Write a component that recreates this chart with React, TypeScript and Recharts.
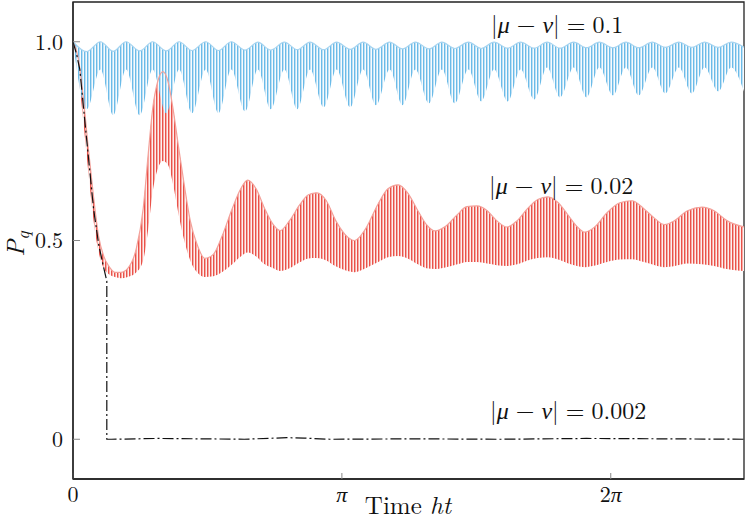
import { ComposedChart, Area, Line, XAxis, YAxis, ReferenceArea, Label } from 'recharts'

// |mu - nu| = 0.1 (blue band: upper edge and lower tips of the fast oscillation)
const blueTime = [
  0, 0.16, 0.32, 0.47, 0.62, 0.78, 0.93, 1.09, 1.24, 1.39, 1.55, 1.7, 1.85, 2.01, 2.16, 2.31, 2.47, 2.62,
  2.77, 2.93, 3.08, 3.24, 3.39, 3.54, 3.7, 3.85, 4.0, 4.16, 4.31, 4.46, 4.62, 4.77, 4.92, 5.08, 5.23, 5.39,
  5.54, 5.69, 5.85, 6.0, 6.15, 6.31, 6.46, 6.61, 6.77, 6.92, 7.08, 7.23, 7.38, 7.54, 7.69, 7.84,
]
const blueHigh = [
  1.0, 0.975, 1.0, 0.976, 1.0, 0.977, 1.0, 0.977, 1.0, 0.978, 1.0, 0.978, 1.0, 0.979, 0.999, 0.979, 0.999,
  0.98, 0.999, 0.98, 0.999, 0.981, 0.999, 0.981, 0.999, 0.982, 0.999, 0.982, 0.999, 0.983, 0.999, 0.983,
  0.999, 0.984, 0.999, 0.984, 0.999, 0.984, 0.999, 0.985, 0.999, 0.985, 0.999, 0.985, 0.999, 0.986, 0.999,
  0.986, 0.999, 0.986, 0.999, 0.986,
]
const blueLow = [
  1.0, 0.83, 0.93, 0.815, 0.93, 0.815, 0.93, 0.82, 0.93, 0.82, 0.93, 0.82, 0.93, 0.825, 0.93, 0.83, 0.93,
  0.83, 0.93, 0.835, 0.93, 0.835, 0.93, 0.84, 0.93, 0.84, 0.93, 0.845, 0.93, 0.845, 0.93, 0.85, 0.93, 0.85,
  0.93, 0.855, 0.935, 0.86, 0.935, 0.86, 0.935, 0.865, 0.935, 0.865, 0.935, 0.87, 0.935, 0.87, 0.935, 0.875,
  0.935, 0.875,
]

// |mu - nu| = 0.02 (red band)
const redTime = [
  0, 0.06, 0.12, 0.18, 0.24, 0.3, 0.36, 0.42, 0.49, 0.56, 0.64, 0.74, 0.82, 0.88, 0.93, 0.99, 1.05, 1.11,
  1.17, 1.23, 1.3, 1.37, 1.45, 1.54, 1.64, 1.74, 1.86, 1.96, 2.04, 2.14, 2.24, 2.34, 2.42, 2.53, 2.65, 2.75,
  2.85, 2.96, 3.07, 3.18, 3.29, 3.42, 3.56, 3.68, 3.8, 3.91, 4.03, 4.13, 4.23, 4.35, 4.49, 4.6, 4.72, 4.84,
  4.95, 5.07, 5.19, 5.31, 5.43, 5.55, 5.67, 5.78, 5.89, 5.98, 6.1, 6.24, 6.39, 6.53, 6.67, 6.8, 6.91, 7.03,
  7.18, 7.35, 7.49, 7.64, 7.84,
]
const redHigh = [
  1.0, 0.96, 0.86, 0.73, 0.61, 0.51, 0.46, 0.435, 0.42, 0.42, 0.43, 0.48, 0.58, 0.72, 0.83, 0.9, 0.925, 0.9,
  0.83, 0.74, 0.64, 0.55, 0.49, 0.455, 0.465, 0.51, 0.58, 0.63, 0.652, 0.63, 0.58, 0.54, 0.525, 0.55, 0.59,
  0.615, 0.62, 0.6, 0.55, 0.515, 0.5, 0.53, 0.59, 0.63, 0.64, 0.62, 0.575, 0.54, 0.524, 0.535, 0.565, 0.585,
  0.587, 0.575, 0.55, 0.534, 0.55, 0.58, 0.603, 0.61, 0.595, 0.565, 0.535, 0.521, 0.535, 0.57, 0.595, 0.6,
  0.58, 0.555, 0.54, 0.55, 0.575, 0.584, 0.575, 0.55, 0.534,
]
const redLow = [
  1.0, 0.92, 0.8, 0.67, 0.55, 0.47, 0.43, 0.415, 0.408, 0.405, 0.408, 0.42, 0.45, 0.53, 0.62, 0.68, 0.7,
  0.69, 0.64, 0.57, 0.5, 0.45, 0.42, 0.408, 0.41, 0.42, 0.44, 0.46, 0.47, 0.46, 0.44, 0.43, 0.423, 0.43,
  0.445, 0.455, 0.456, 0.45, 0.435, 0.425, 0.42, 0.43, 0.445, 0.458, 0.461, 0.455, 0.44, 0.43, 0.428, 0.432,
  0.44, 0.446, 0.446, 0.442, 0.438, 0.436, 0.44, 0.45, 0.456, 0.458, 0.452, 0.443, 0.436, 0.433, 0.437,
  0.446, 0.452, 0.453, 0.446, 0.438, 0.433, 0.436, 0.442, 0.44, 0.436, 0.428, 0.423,
]

// |mu - nu| = 0.002 (black dash-dot)
const blackTime = [0, 0.04, 0.08, 0.12, 0.18, 0.24, 0.3, 0.35, 0.395, 0.395, 0.45, 1.0, 2.0, 2.5, 2.7, 3.0, 4.0, 5.0, 6.0, 7.0, 7.84]
const blackValue = [1.0, 0.97, 0.93, 0.84, 0.71, 0.58, 0.49, 0.44, 0.398, 0.0, 0.0, 0.002, 0.0, 0.004, 0.003, 0.0, 0.001, 0.0, 0.002, 0.001, 0.0]

const xTicks = [0, Math.PI, 2 * Math.PI]
const xTickLabels = ['0', 'π', '2π']
const yTicks = [0, 0.5, 1]
const yTickLabels = ['0', '0.5', '1.0']

const blueData = blueTime.map((t, i) => ({ t, band: [blueLow[i], blueHigh[i]], top: blueHigh[i] }))
const redData = redTime.map((t, i) => ({ t, band: [redLow[i], redHigh[i]], top: redHigh[i] }))
const blackData = blackTime.map((t, i) => ({ t, p: blackValue[i] }))

const lm = '"Latin Modern Roman", "Liberation Serif"'
const greek = '"Liberation Serif"'
const tickStyle = { fontFamily: lm, fontSize: 22, fill: '#111' }

// splits a tick label so that π comes from a font that has it
const XTick = ({ x, y, payload }: any) => {
  const label = xTickLabels[xTicks.indexOf(payload.value)] ?? ''
  const parts = label.split('π')
  return (
    <text x={x} y={y} dy="0.71em" textAnchor="middle" fontFamily={lm} fontSize={22} fill="#111">
      {parts[0]}
      {label.includes('π') && (
        <tspan fontFamily={greek} fontStyle="italic">
          π
        </tspan>
      )}
    </text>
  )
}

const Annotation = ({ top, left, value }: { top: number; left: number; value: string }) => (
  <div
    style={{
      position: 'absolute',
      top,
      left,
      fontFamily: lm,
      fontSize: 24,
      lineHeight: '24px',
      color: '#111',
      whiteSpace: 'nowrap',
    }}
  >
    |<i style={{ fontFamily: greek }}>μ</i>
    <span style={{ margin: '0 7px' }}>−</span>
    <i style={{ fontFamily: greek }}>ν</i>|<span style={{ margin: '0 7px' }}>=</span>
    {value}
  </div>
)

export default function App() {
  return (
    <div style={{ position: 'absolute', left: 0, top: 0, width: 747, height: 522, background: '#fff' }}>
      <ComposedChart width={747} height={522} margin={{ top: 2, right: 3, bottom: 0, left: 0 }}>
        <defs>
          <pattern id="redStripes" patternUnits="userSpaceOnUse" x="0" y="0" width="3" height="6">
            <rect width="3" height="6" fill="#fdf0ef" />
            <rect x="0" width="1" height="6" fill="#e9524a" />
            <rect x="1" width="1" height="6" fill="#f6aaa4" />
          </pattern>
          <pattern id="blueStripes" patternUnits="userSpaceOnUse" x="0" y="0" width="3" height="6">
            <rect width="3" height="6" fill="#f6fbfe" />
            <rect x="0" width="1" height="6" fill="#6bbbe8" />
            <rect x="1" width="1" height="6" fill="#bfe0f4" />
          </pattern>
        </defs>
        <XAxis
          type="number"
          dataKey="t"
          domain={[0, 7.84]}
          allowDataOverflow
          ticks={xTicks}
          tick={<XTick />}
          tickSize={-6}
          tickMargin={13}
          tickLine={{ stroke: '#888' }}
          axisLine={{ stroke: '#222', strokeWidth: 1.3 }}
          height={43}
        >
          <Label
            content={() => (
              <text x={408} y={514} textAnchor="middle" fontFamily={lm} fontSize={25} fill="#111">
                Time <tspan fontStyle="italic">ht</tspan>
              </text>
            )}
          />
        </XAxis>
        <YAxis
          type="number"
          domain={[-0.1, 1.1]}
          allowDataOverflow
          ticks={yTicks}
          tickFormatter={(v: number) => yTickLabels[yTicks.indexOf(v)] ?? ''}
          tick={tickStyle}
          tickSize={-7}
          tickMargin={17}
          tickLine={{ stroke: '#888' }}
          axisLine={{ stroke: '#222', strokeWidth: 1.3 }}
          width={73}
        >
          <Label
            content={() => (
              <text x={24} y={244} transform="rotate(-90 24 244)" textAnchor="middle" fontFamily={lm} fontSize={25} fill="#111">
                <tspan fontStyle="italic">P</tspan>
                <tspan fontStyle="italic" fontSize={18} dy={5}>q</tspan>
              </text>
            )}
          />
        </YAxis>
        <ReferenceArea x1={0} x2={7.84} y1={-0.1} y2={1.1} fill="none" stroke="#222" strokeWidth={1.3} />
        <Area
          data={redData}
          dataKey="band"
          type="monotone"
          stroke="none"
          fill="url(#redStripes)"
          fillOpacity={1}
          isAnimationActive={false}
        />
        <Line data={redData} dataKey="top" type="monotone" stroke="#f3a19a" strokeWidth={1.2} dot={false} isAnimationActive={false} />
        <Area
          data={blueData}
          dataKey="band"
          type="monotone"
          stroke="none"
          fill="url(#blueStripes)"
          fillOpacity={1}
          isAnimationActive={false}
        />
        <Line data={blueData} dataKey="top" type="monotone" stroke="#a6d4f0" strokeWidth={1.2} dot={false} isAnimationActive={false} />
        <Line
          data={blackData}
          dataKey="p"
          type="linear"
          stroke="#111"
          strokeWidth={1.2}
          strokeDasharray="11 3 2 3"
          dot={false}
          isAnimationActive={false}
        />
      </ComposedChart>
      <Annotation top={11} left={491} value="0.1" />
      <Annotation top={172} left={489} value="0.02" />
      <Annotation top={397} left={490} value="0.002" />
    </div>
  )
}
